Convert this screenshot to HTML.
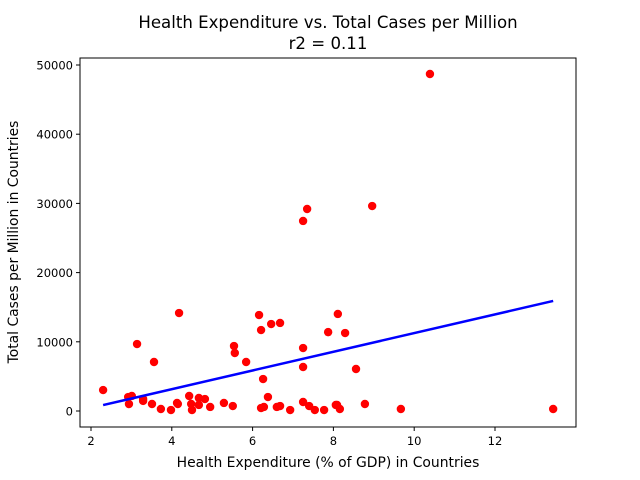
<!DOCTYPE html>
<html><head><meta charset="utf-8"><style>
body{margin:0;background:#fff;}
svg{display:block;font-family:"DejaVu Sans","Liberation Sans",sans-serif;}
</style></head><body>
<svg id="chart" width="640" height="480">
<rect width="640" height="480" fill="#fff"/>
<text x="328" y="28" text-anchor="middle" font-size="16.6">Health Expenditure vs. Total Cases per Million</text>
<text x="328" y="49" text-anchor="middle" font-size="16.6">r2 = 0.11</text>
<g id="plot"></g>
<rect x="80" y="58" width="496" height="369" fill="none" stroke="#000" stroke-width="1"/>
<text x="328" y="467" text-anchor="middle" font-size="13.9">Health Expenditure (% of GDP) in Countries</text>
<text transform="translate(18,242) rotate(-90)" text-anchor="middle" font-size="13.9">Total Cases per Million in Countries</text>
</svg>
<script>
const xValues=[2.30,4.18,3.14,3.56,2.92,3.01,2.94,3.29,3.29,3.51,3.73,3.98,4.13,4.15,4.43,4.48,4.50,4.67,4.67,4.82,4.95,5.29,5.51,5.54,5.56,5.84,6.16,6.21,6.26,6.21,6.28,6.38,6.46,6.68,6.60,6.68,6.93,7.25,7.25,7.25,7.40,7.54,7.77,7.87,8.09,8.11,8.29,8.56,8.06,8.16,8.78,9.67,13.44,7.25,7.35,8.96,10.39];
const yValues=[3030,14160,9680,7080,2020,2170,1010,1730,1450,1010,290,140,1160,1010,2170,1010,140,1880,870,1730,580,1160,720,9390,8380,7080,13870,11700,4620,430,580,2020,12570,12720,580,720,140,9100,6360,1300,720,140,140,11400,870,14020,11270,6070,870,290,1010,290,290,27460,29190,29620,48700];
const xTicks=[2,4,6,8,10,12];
const yTicks=[0,10000,20000,30000,40000,50000];
const NS="http://www.w3.org/2000/svg";
const X0=80,X1=576,Y0=427,Y1=58;
const xMin=1.728,xMax=14.005,yMin=-2312,yMax=51012;
function sx(v){return X0+(v-xMin)/(xMax-xMin)*(X1-X0);}
function sy(v){return Y0-(v-yMin)/(yMax-yMin)*(Y0-Y1);}
const svg=document.getElementById('chart');
const plot=document.getElementById('plot');
function mk(tag,attrs,parent){const e=document.createElementNS(NS,tag);for(const k in attrs)e.setAttribute(k,attrs[k]);(parent||svg).appendChild(e);return e;}
xTicks.forEach(t=>{
  const g=mk('g',{});
  
  
  mk('line',{x1:sx(t),x2:sx(t),y1:Y0,y2:Y0+4,stroke:'#000'},g);
  const tx=mk('text',{x:sx(t),y:Y0+18,'text-anchor':'middle','font-size':'11.5'},g);tx.textContent=t;
});
yTicks.forEach(t=>{
  const g=mk('g',{});
  
  
  mk('line',{x1:X0-4,x2:X0,y1:sy(t),y2:sy(t),stroke:'#000'},g);
  const tx=mk('text',{x:X0-7,y:sy(t)+4.5,'text-anchor':'end','font-size':'11.5'},g);tx.textContent=t;
});
xValues.forEach((x,i)=>{
  const c=mk('circle',{cx:sx(x),cy:sy(yValues[i]),r:4.2,fill:'#ff0000'},plot);
  
  
});
const n=xValues.length;
const mx=xValues.reduce((a,b)=>a+b,0)/n,my=yValues.reduce((a,b)=>a+b,0)/n;
let sxy=0,sxx=0;
for(let i=0;i<n;i++){sxy+=(xValues[i]-mx)*(yValues[i]-my);sxx+=(xValues[i]-mx)**2;}
const slope=sxy/sxx,icpt=my-slope*mx;
const lo=Math.min(...xValues),hi=Math.max(...xValues);
const ln=mk('line',{x1:sx(lo),y1:sy(icpt+slope*lo),x2:sx(hi),y2:sy(icpt+slope*hi),stroke:'#0000ff','stroke-width':2.5},plot);


</script>
</body></html>
